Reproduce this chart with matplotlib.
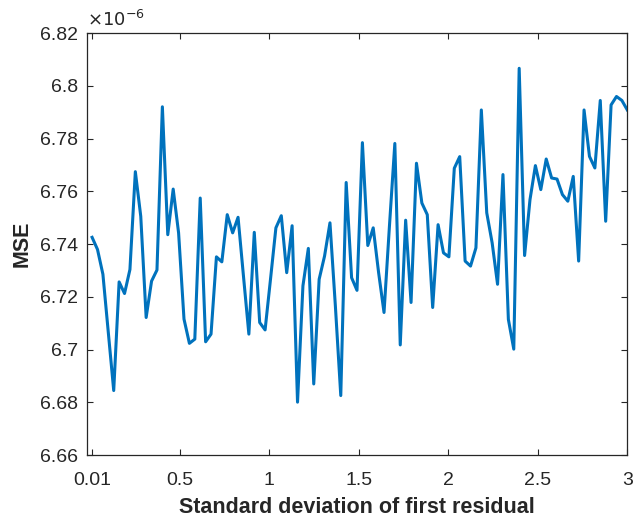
import numpy as np
import matplotlib
matplotlib.use("Agg")
import matplotlib.pyplot as plt

# --- Data (MSE in units of 1e-6) ---
sigma_start = 0.01
sigma_end = 3.0
mse_e6 = [
    6.7426, 6.7380, 6.7286, 6.7065, 6.6845, 6.7257, 6.7213, 6.7304, 6.7675, 6.7506,
    6.7122, 6.7260, 6.7302, 6.7921, 6.7436, 6.7609, 6.7443, 6.7116, 6.7024, 6.7040,
    6.7575, 6.7030, 6.7059, 6.7352, 6.7333, 6.7512, 6.7443, 6.7502, 6.7279, 6.7059,
    6.7445, 6.7103, 6.7075, 6.7267, 6.7462, 6.7508, 6.7292, 6.7470, 6.6801, 6.7242,
    6.7384, 6.6870, 6.7267, 6.7355, 6.7481, 6.7166, 6.6826, 6.7634, 6.7273, 6.7225,
    6.7785, 6.7395, 6.7462, 6.7292, 6.7141, 6.7468, 6.7782, 6.7018, 6.7491, 6.7179,
    6.7707, 6.7556, 6.7512, 6.7160, 6.7474, 6.7367, 6.7352, 6.7688, 6.7732, 6.7336,
    6.7317, 6.7386, 6.7909, 6.7519, 6.7405, 6.7248, 6.7664, 6.7115, 6.7002, 6.8067,
    6.7357, 6.7569, 6.7698, 6.7607, 6.7723, 6.7651, 6.7647, 6.7588, 6.7563, 6.7657,
    6.7336, 6.7909, 6.7733, 6.7689, 6.7945, 6.7487, 6.7928, 6.7960, 6.7945, 6.7909,
]
sigma = np.linspace(sigma_start, sigma_end, len(mse_e6))

x_ticks = [0.01, 0.5, 1, 1.5, 2, 2.5, 3]
x_tick_labels = ["0.01", "0.5", "1", "1.5", "2", "2.5", "3"]
y_ticks = [6.66, 6.68, 6.70, 6.72, 6.74, 6.76, 6.78, 6.80, 6.82]
y_tick_labels = ["6.66", "6.68", "6.7", "6.72", "6.74", "6.76", "6.78", "6.8", "6.82"]

# --- Style ---
plt.rcParams["font.family"] = ["Liberation Sans", "DejaVu Sans"]
dark = "#262626"

fig = plt.figure(figsize=(6.33, 5.19), dpi=100)
ax = fig.add_axes([0.137, 0.123, 0.854, 0.813])

ax.plot(sigma, mse_e6, color="#0072BD", linewidth=2.2)

ax.set_xlim(-0.02, 3)
ax.set_ylim(6.66, 6.82)
ax.set_xticks(x_ticks)
ax.set_xticklabels(x_tick_labels)
ax.set_yticks(y_ticks)
ax.set_yticklabels(y_tick_labels)

ax.tick_params(direction="in", length=4, width=0.8, colors=dark,
               labelsize=14, top=True, right=True)
ax.tick_params(axis="x", pad=12)
ax.tick_params(axis="y", pad=6.5)
for side in ax.spines.values():
    side.set_color(dark)
    side.set_linewidth(0.9)

ax.set_xlabel("Standard deviation of first residual", fontsize=15.5,
              fontweight="bold", color=dark, labelpad=6)
ax.set_ylabel("MSE", fontsize=15.5, fontweight="bold", color=dark, labelpad=5)

ax.text(0.0, 1.008, r"$\times10^{-6}$", transform=ax.transAxes,
        fontsize=13, color=dark, ha="left", va="bottom",
        math_fontfamily="dejavusans")

fig.savefig("out.png", dpi=100)
